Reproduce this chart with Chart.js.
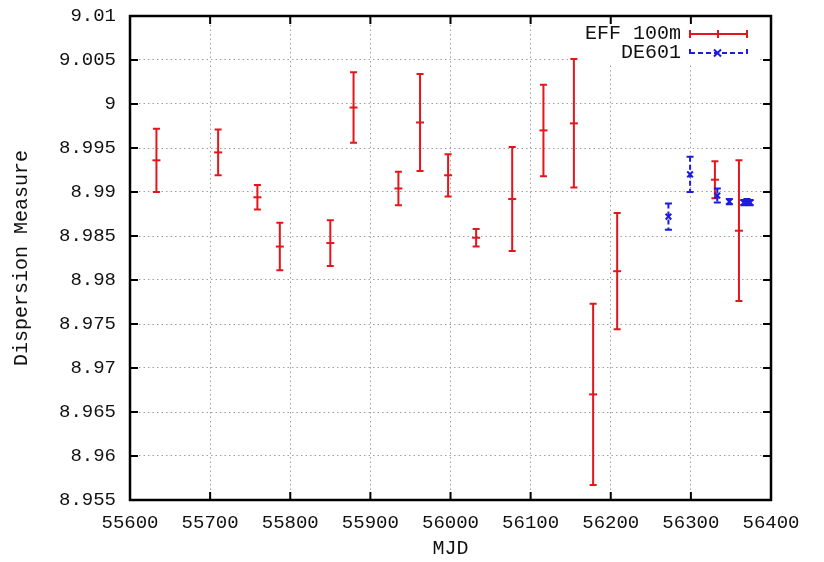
<!DOCTYPE html>
<html>
<head>
<meta charset="utf-8">
<script src="https://cdn.jsdelivr.net/npm/chart.js@4.4.0/dist/chart.umd.min.js"></script>
<style>
html, body { margin: 0; padding: 0; background: #fff; }
</style>
</head>
<body>
<canvas id="grafica" width="824" height="562"></canvas>
<script>
// EFF 100m
const effMjd = [55633, 55710, 55759, 55787, 55850, 55879, 55935, 55962, 55997, 56032, 56077, 56116, 56154, 56178, 56208, 56330, 56360];
const effDm  = [8.9936, 8.9945, 8.9894, 8.9838, 8.9842, 8.9996, 8.9904, 8.9979, 8.9919, 8.9848, 8.9892, 8.9970, 8.9978, 8.9670, 8.9810, 8.9914, 8.9856];
const effErr = [0.0036, 0.0026, 0.0014, 0.0027, 0.0026, 0.0040, 0.0019, 0.0055, 0.0024, 0.0010, 0.0059, 0.0052, 0.0073, 0.0103, 0.0066, 0.0021, 0.0080];

// DE601
const lofarMjd = [56272, 56299, 56333, 56348, 56366, 56370, 56374];
const lofarDm  = [8.9872, 8.9920, 8.9896, 8.9889, 8.9888, 8.9889, 8.9888];
const lofarErr = [0.0015, 0.0020, 0.0008, 0.0003, 0.0003, 0.0003, 0.0003];

const xTicks = [55600, 55700, 55800, 55900, 56000, 56100, 56200, 56300, 56400];
const xTickLabels = ["55600", "55700", "55800", "55900", "56000", "56100", "56200", "56300", "56400"];
const yTicks = [8.955, 8.96, 8.965, 8.97, 8.975, 8.98, 8.985, 8.99, 8.995, 9, 9.005, 9.01];
const yTickLabels = ["8.955", "8.96", "8.965", "8.97", "8.975", "8.98", "8.985", "8.99", "8.995", "9", "9.005", "9.01"];

const rojo = "rgb(228,22,28)";
const azul = "rgb(28,28,225)";
const fuente = "'Liberation Mono', 'DejaVu Sans Mono', monospace";

function puntos(xs, ys) {
    return xs.map((x, i) => ({ x: x, y: ys[i] }));
}

const errorBars = {
    id: "errorBars",
    beforeDatasetsDraw(chart) {
        const ctx = chart.ctx;
        // fondo opaco de la leyenda
        ctx.save();
        ctx.fillStyle = "#fff";
        ctx.fillRect(579, 19, 180, 44);
        ctx.restore();

        const x = chart.scales.x, y = chart.scales.y;
        chart.data.datasets.forEach((ds) => {
            ctx.save();
            ctx.strokeStyle = ds.borderColor;
            ctx.lineWidth = 2;
            ds.errors.forEach((e, j) => {
                const px = x.getPixelForValue(ds.data[j].x);
                const top = y.getPixelForValue(ds.data[j].y + e);
                const bot = y.getPixelForValue(ds.data[j].y - e);
                ctx.setLineDash(ds.barDash);
                ctx.beginPath();
                ctx.moveTo(px, top);
                ctx.lineTo(px, bot);
                ctx.stroke();
                ctx.setLineDash([]);
                ctx.beginPath();
                ctx.moveTo(px - 3.5, top);
                ctx.lineTo(px + 3.5, top);
                ctx.moveTo(px - 3.5, bot);
                ctx.lineTo(px + 3.5, bot);
                ctx.stroke();
            });
            ctx.restore();
        });
    },
    afterDraw(chart) {
        const ctx = chart.ctx;
        const a = chart.chartArea;
        const x = chart.scales.x, y = chart.scales.y;
        ctx.save();
        // ticks hacia adentro
        ctx.strokeStyle = "#000";
        ctx.lineWidth = 2;
        ctx.beginPath();
        for (const v of xTicks) {
            const px = x.getPixelForValue(v);
            ctx.moveTo(px, a.bottom); ctx.lineTo(px, a.bottom - 8);
            ctx.moveTo(px, a.top); ctx.lineTo(px, a.top + 8);
        }
        for (const v of yTicks) {
            const py = y.getPixelForValue(v);
            ctx.moveTo(a.left, py); ctx.lineTo(a.left + 8, py);
            ctx.moveTo(a.right, py); ctx.lineTo(a.right - 8, py);
        }
        ctx.stroke();
        // marco
        ctx.lineWidth = 2.5;
        ctx.strokeRect(a.left, a.top, a.right - a.left, a.bottom - a.top);

        // leyenda
        ctx.font = "20px " + fuente;
        ctx.textAlign = "right";
        ctx.textBaseline = "middle";
        chart.data.datasets.forEach((ds, i) => {
            const ly = 34 + i * 19;
            ctx.fillStyle = "#111";
            ctx.fillText(ds.label, 681, ly);
            ctx.strokeStyle = ds.borderColor;
            ctx.lineWidth = 2;
            ctx.setLineDash(ds.barDash);
            ctx.beginPath();
            ctx.moveTo(690, ly); ctx.lineTo(747, ly);
            ctx.stroke();
            ctx.beginPath();
            ctx.moveTo(690, ly - 4); ctx.lineTo(690, ly + 4);
            ctx.moveTo(747, ly - 4); ctx.lineTo(747, ly + 4);
            ctx.stroke();
            ctx.setLineDash([]);
            ctx.beginPath();
            if (ds.pointStyle === "crossRot") {
                ctx.moveTo(714, ly - 3.5); ctx.lineTo(721, ly + 3.5);
                ctx.moveTo(714, ly + 3.5); ctx.lineTo(721, ly - 3.5);
            } else {
                ctx.moveTo(718, ly - 4); ctx.lineTo(718, ly + 4);
            }
            ctx.stroke();
        });
        ctx.restore();
    }
};

const config = {
    type: "scatter",
    data: {
        datasets: [{
            label: "EFF 100m",
            data: puntos(effMjd, effDm),
            errors: effErr,
            barDash: [],
            borderColor: rojo,
            backgroundColor: rojo,
            pointStyle: "line",
            pointRadius: 4,
            borderWidth: 2,
            showLine: false
        }, {
            label: "DE601",
            data: puntos(lofarMjd, lofarDm),
            errors: lofarErr,
            barDash: [5, 3],
            borderColor: azul,
            backgroundColor: azul,
            pointStyle: "crossRot",
            pointRadius: 4,
            borderWidth: 2,
            showLine: false
        }]
    },
    options: {
        responsive: false,
        animation: false,
        devicePixelRatio: 1,
        layout: { padding: { left: 0, right: 53, top: 16, bottom: 0 } },
        plugins: { legend: { display: false }, tooltip: { enabled: false } },
        scales: {
            x: {
                type: "linear",
                min: 55600,
                max: 56400,
                afterBuildTicks: (s) => { s.ticks = xTicks.map(v => ({ value: v })); },
                afterFit: (s) => { s.height = 62; },
                ticks: {
                    autoSkip: false,
                    maxRotation: 0,
                    padding: 12,
                    color: "#111",
                    font: { family: fuente, size: 19 },
                    callback: (v, i) => xTickLabels[i]
                },
                grid: { color: "#a0a0a0", lineWidth: 1, drawTicks: false },
                border: { display: false, dash: [1.5, 3] },
                title: {
                    display: true,
                    text: "MJD",
                    color: "#111",
                    font: { family: fuente, size: 20 },
                    padding: { top: 0, bottom: 1 }
                }
            },
            y: {
                type: "linear",
                min: 8.955,
                max: 9.01,
                afterBuildTicks: (s) => { s.ticks = yTicks.map(v => ({ value: v })); },
                afterFit: (s) => { s.width = 130; s.paddingTop = 0; s.paddingBottom = 0; },
                ticks: {
                    autoSkip: false,
                    padding: 14,
                    color: "#111",
                    font: { family: fuente, size: 19 },
                    callback: (v, i) => yTickLabels[i]
                },
                grid: { color: "#a0a0a0", lineWidth: 1, drawTicks: false },
                border: { display: false, dash: [1.5, 3] },
                title: {
                    display: true,
                    text: "Dispersion Measure",
                    color: "#111",
                    font: { family: fuente, size: 20 },
                    padding: { top: 10, bottom: 0 }
                }
            }
        }
    },
    plugins: [errorBars]
};

ChartPrincipal = new Chart(document.getElementById("grafica"), config);
</script>
</body>
</html>
